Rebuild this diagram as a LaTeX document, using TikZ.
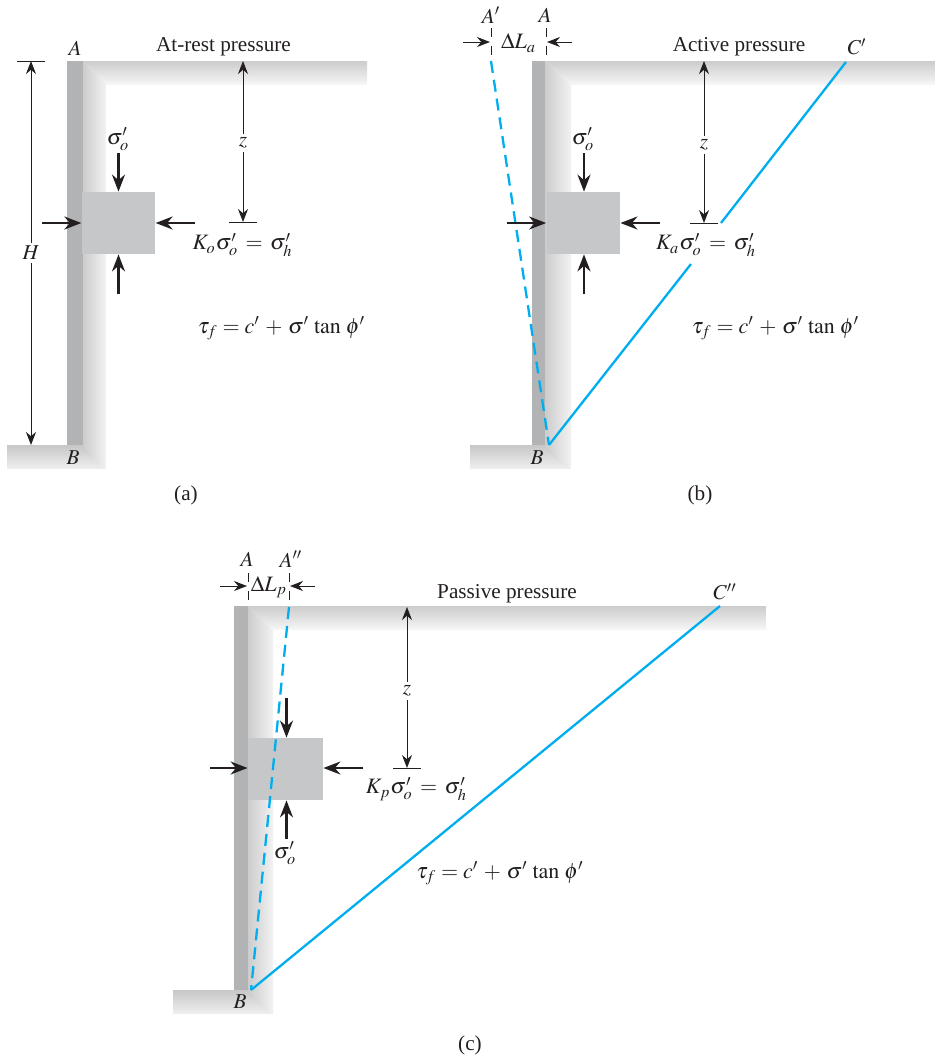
\documentclass[tikz,border=0pt]{standalone}
\usepackage{mathptmx}
\usepackage[no-math]{fontspec}
\setmainfont{Liberation Serif}
\usepackage{xcolor}
\usetikzlibrary{arrows.meta}
\definecolor{wallgray}{HTML}{B2B3B5}
\definecolor{blockgray}{HTML}{C6C7C9}
\definecolor{linkblue}{HTML}{00AEEF}
\definecolor{inkblack}{HTML}{231F20}
\newcommand{\taueq}{$\tau_f = c'\,+\,\sigma'\,\tan\,\phi'$}

\begin{document}
\begin{tikzpicture}[
  x=0.5pt, y=-0.5pt,
  every node/.style={font=\fontsize{10.6}{12}\selectfont, text=inkblack, inner sep=1.5pt},
  eqn/.style={font=\fontsize{11}{12}\selectfont},
  wall/.style={fill=wallgray, draw=none},
  topband/.style={top color=white!80!black, bottom color=white!97!black, draw=none},
  sideband/.style={left color=white!80!black, right color=white!95!black, draw=none},
  slabband/.style={top color=white!78!black, bottom color=white!94!black, draw=none},
  block/.style={fill=blockgray, inner sep=0pt, minimum width=36.75pt, minimum height=31pt},
  dim/.style={-{Stealth[length=6.5pt,width=5pt]}, inkblack, line width=0.5pt},
  tick/.style={inkblack, line width=0.45pt},
  load/.style={-{Stealth[length=8.5pt,width=6.5pt]}, inkblack, line width=1.2pt},
  slip/.style={linkblue, line width=1.15pt},
  slipdash/.style={slip, dash pattern=on 6pt off 3.5pt}
]
\useasboundingbox (0,0) rectangle (935,1057);

%--------------------------------------------------
% (a): at-rest
%--------------------------------------------------
\shade[topband] (83,61) -- (367,61) -- (367,85) -- (106,85) -- cycle;
\shade[sideband] (83,61) -- (106,85) -- (106,469) -- (83,445) -- cycle;
\shade[slabband] (7,445) -- (83,445) -- (106,469) -- (7,469) -- cycle;
\fill[wall] (67,61) rectangle (83,445);
\node[block] (blocka) at (118.5,223) {};

\node (Aa) at (75,48) {$A$};
\node (Ba) at (73,458) {$B$};
\node (titlea) at (223.5,46.5) {At-rest pressure};
\node[eqn] (sigmaa) at (118,139) {$\sigma_o'$};
\node (Hlabel) at (31,253) {$H$};
\node (za) at (243,143) {$z$};
\node[eqn] (Koa) at (242.5,245) {$K_o\sigma_o'\,=\,\sigma_h'$};
\node[eqn] (taua) at (281.5,328.5) {\taueq};
\node (capa) at (186,495) {(a)};

% loads on the block
\coordinate (topa) at (118.5,153);
\coordinate (lefta) at (42,223);
\coordinate (righta) at (195,223);
\coordinate (bota) at (118.5,294);
\draw[load] (topa) -- (blocka.north);
\draw[load] (lefta) -- (blocka.west);
\draw[load] (righta) -- (blocka.east);
\draw[load] (bota) -- (blocka.south);

% dimensions
\coordinate (Htop) at (31,61);
\coordinate (Hbot) at (31,445);
\draw[dim] (Hlabel) -- (Htop);
\draw[dim] (Hlabel) -- (Hbot);
\draw[tick] (17,61) -- (45,61);
\coordinate (ztopa) at (243,61);
\coordinate (zbota) at (243,222);
\draw[dim] (za) -- (ztopa);
\draw[dim] (za) -- (zbota);
\draw[tick] (229,222) -- (257,222);

%--------------------------------------------------
% (b): active
%--------------------------------------------------
\shade[topband] (545,61) -- (935,61) -- (935,85) -- (571,85) -- cycle;
\shade[sideband] (545,61) -- (571,85) -- (571,469) -- (545,445) -- cycle;
\shade[slabband] (470,445) -- (545,445) -- (571,469) -- (470,469) -- cycle;
\fill[wall] (532,61) rectangle (545,445);
\node[block] (blockb) at (583.3,223) {};

\node (Apb) at (491,15) {$A'$};
\node (Ab) at (545,15) {$A$};
\node (Bb) at (537,458) {$B$};
\node (Cpb) at (857,47) {$C'$};
\node (titleb) at (739,46.5) {Active pressure};
\node[eqn] (sigmab) at (583,139) {$\sigma_o'$};
\node[eqn] (dLa) at (518.5,43) {$\Delta L_a$};
\node (zb) at (704,145) {$z$};
\node[eqn] (Kab) at (706,245) {$K_a\sigma_o'\,=\,\sigma_h'$};
\node[eqn] (taub) at (775.5,328.5) {\taueq};
\node (capb) at (700,495) {(b)};

% slip line
\coordinate (Atopb) at (491,61);
\coordinate (Bfootb) at (549,445);
\coordinate (Cendb) at (846,62);
\coordinate (gapb) at (691,264);
\coordinate (gapc) at (721,223);
\draw[slipdash] (Atopb) -- (Bfootb);
\draw[slip] (Bfootb) -- (gapb);
\draw[slip] (gapc) -- (Cendb);

% loads on the block
\coordinate (topb) at (584,153);
\coordinate (leftb) at (507,223);
\coordinate (rightb) at (660,223);
\coordinate (botb) at (584,294);
\draw[load] (topb) -- (blockb.north-|topb);
\draw[load] (leftb) -- (blockb.west);
\draw[load] (rightb) -- (blockb.east);
\draw[load] (botb) -- (blockb.south-|botb);

% dimensions
\coordinate (ztopb) at (704,61);
\coordinate (zbotb) at (704,223);
\draw[dim] (zb) -- (ztopb);
\draw[dim] (zb) -- (zbotb);
\draw[tick] (690,223) -- (718,223);
\draw[tick] (491,28) -- (491,37);
\draw[tick] (491,46) -- (491,55);
\draw[tick] (546,28) -- (546,37);
\draw[tick] (546,46) -- (546,55);
\coordinate (dLal) at (463,42);
\coordinate (dLalend) at (490,42);
\coordinate (dLar) at (572,42);
\coordinate (dLarend) at (547,42);
\draw[dim] (dLal) -- (dLalend);
\draw[dim] (dLar) -- (dLarend);

%--------------------------------------------------
% (c): passive
%--------------------------------------------------
\shade[topband] (248,606) -- (766,606) -- (766,630) -- (273,630) -- cycle;
\shade[sideband] (248,606) -- (273,630) -- (273,1014) -- (248,990) -- cycle;
\shade[slabband] (173,990) -- (248,990) -- (273,1014) -- (173,1014) -- cycle;
\fill[wall] (234,606) rectangle (248,990);
\node[block, minimum width=37.5pt] (blockc) at (285.5,769) {};

\node (Ac) at (247,559) {$A$};
\node (Appc) at (291,559) {$A''$};
\node (Bc) at (240,1002) {$B$};
\node (Cppc) at (725,592) {$C''$};
\node (titlec) at (507,593.5) {Passive pressure};
\node[eqn] (sigmac) at (285,853) {$\sigma_o'$};
\node[eqn] (dLp) at (269,587) {$\Delta L_p$};
\node (zc) at (407,691) {$z$};
\node[eqn] (Kpc) at (416.5,789) {$K_p\sigma_o'\,=\,\sigma_h'$};
\node[eqn] (tauc) at (500,873.5) {\taueq};
\node (capc) at (470,1045) {(c)};

% slip line
\coordinate (Atopc) at (289,607);
\coordinate (Bfootc) at (251,990);
\coordinate (Cendc) at (720,606);
\draw[slipdash] (Atopc) -- (Bfootc);
\draw[slip] (Bfootc) -- (Cendc);

% loads on the block
\coordinate (topc) at (286.5,698);
\coordinate (leftc) at (210,768);
\coordinate (rightc) at (363,768);
\coordinate (botc) at (286.5,839);
\draw[load] (topc) -- (blockc.north-|topc);
\draw[load] (leftc) -- (blockc.west|-leftc);
\draw[load] (rightc) -- (blockc.east|-rightc);
\draw[load] (botc) -- (blockc.south-|botc);

% dimensions
\coordinate (ztopc) at (407,607);
\coordinate (zbotc) at (407,768);
\draw[dim] (zc) -- (ztopc);
\draw[dim] (zc) -- (zbotc);
\draw[tick] (393,768) -- (421,768);
\draw[tick] (248,573) -- (248,582);
\draw[tick] (248,591) -- (248,600);
\draw[tick] (289,573) -- (289,582);
\draw[tick] (289,591) -- (289,600);
\coordinate (dLpl) at (220,586);
\coordinate (dLplend) at (247,586);
\coordinate (dLpr) at (315,586);
\coordinate (dLprend) at (290,586);
\draw[dim] (dLpl) -- (dLplend);
\draw[dim] (dLpr) -- (dLprend);

\end{tikzpicture}
\end{document}
